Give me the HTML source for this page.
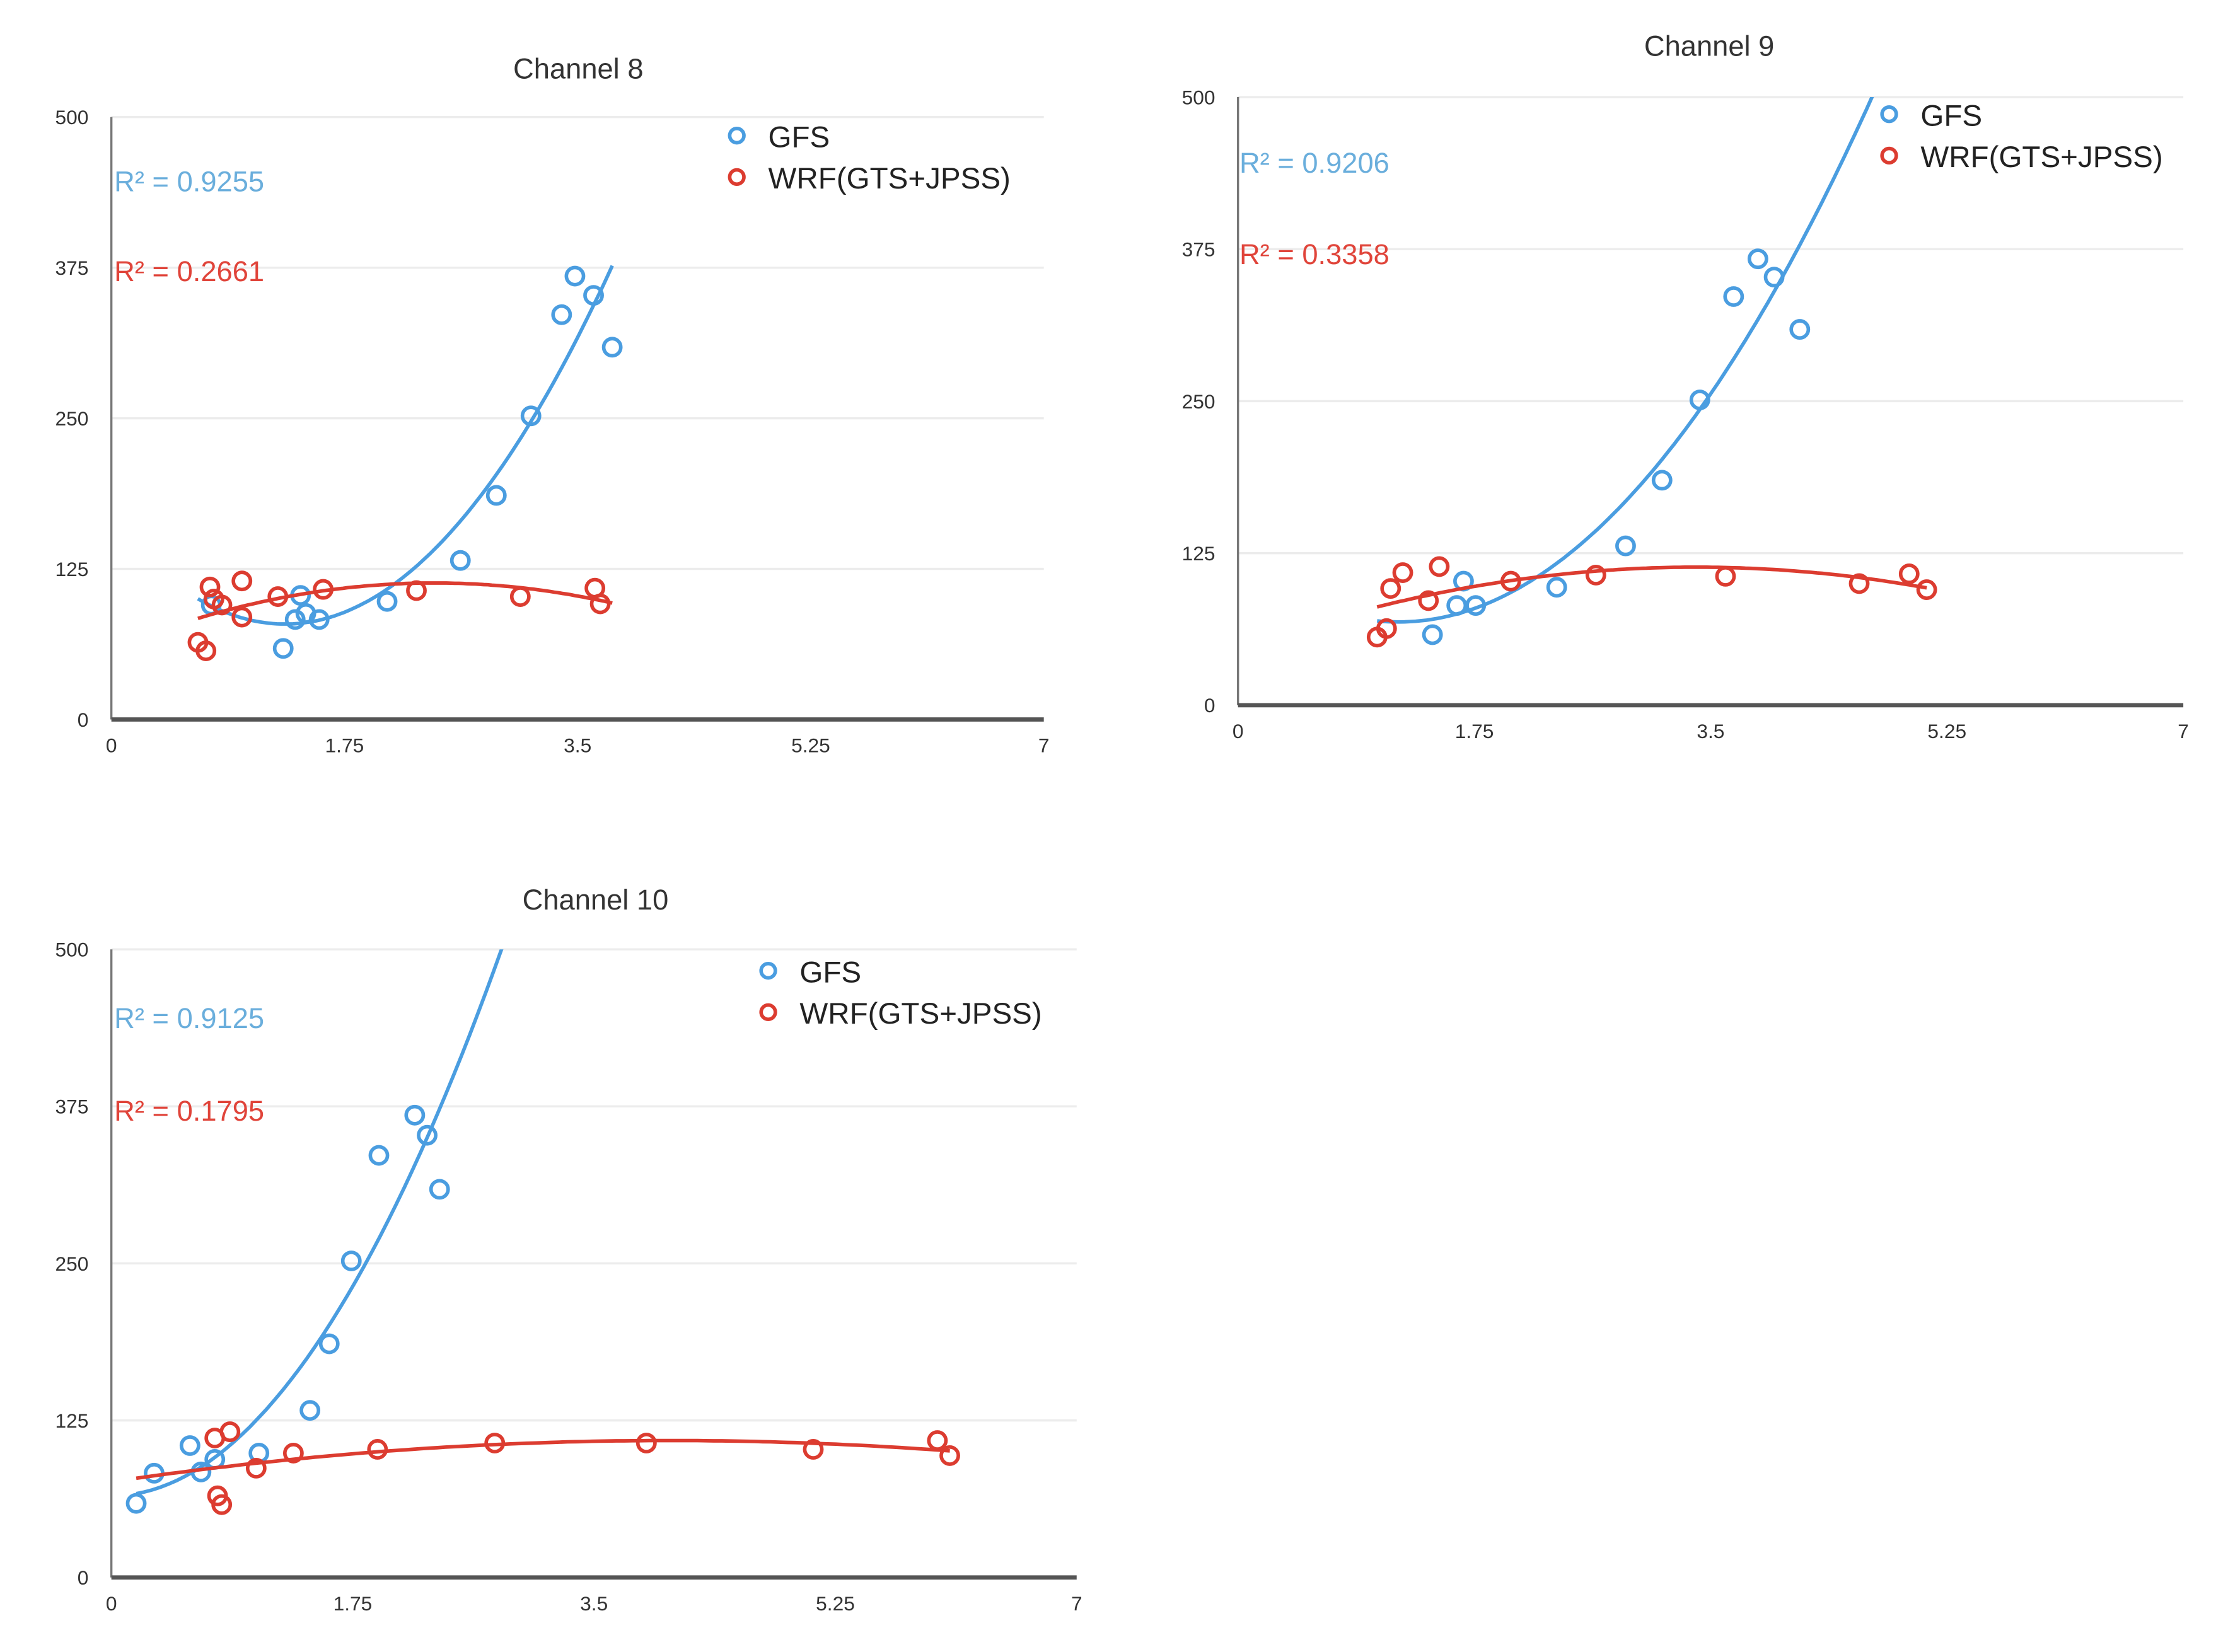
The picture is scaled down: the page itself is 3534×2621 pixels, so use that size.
<!DOCTYPE html>
<html><head><meta charset="utf-8"><style>
html,body{margin:0;padding:0;background:#fff;}
svg{display:block;font-family:"Liberation Sans",sans-serif;}
</style></head><body>
<svg id="svg" width="3534" height="2621" viewBox="0 0 1560.3 1157.2" preserveAspectRatio="none" xmlns="http://www.w3.org/2000/svg"></svg>
<script>
const titles = ["Channel 8","Channel 9","Channel 10"];
const r2Gfs = ["R² = 0.9255","R² = 0.9206","R² = 0.9125"];
const r2Wrf = ["R² = 0.2661","R² = 0.3358","R² = 0.1795"];
const yTicks = [0,125,250,375,500];
const xTicks = [0,1.75,3.5,5.25,7];
const xTickLabels = ["0","1.75","3.5","5.25","7"];
const gfsX8 = [3.48,3.38,3.62,3.76,3.15,2.89,2.62,2.07,1.56,1.46,1.38,1.42,1.29,0.75];
const gfsY8 = [368,336,352,309,252,186,132,98,83,88,83,103,59,95];
const wrfX8 = [0.74,0.77,0.83,0.98,0.98,0.65,0.71,1.25,1.59,2.29,3.07,3.63,3.67];
const wrfY8 = [110,100,95,115,85,64,57,102,108,107,102,109,96];
const gfsX9 = [3.85,3.67,3.97,4.16,3.42,3.14,2.87,2.36,1.76,1.62,1.67,1.44];
const gfsY9 = [367,336,352,309,251,185,131,97,82,82,102,58];
const wrfX9 = [1.03,1.10,1.13,1.22,1.41,1.49,2.02,2.65,3.61,4.60,4.97,5.10];
const wrfY9 = [56,63,96,109,86,114,102,107,106,100,108,95];
const gfsX10 = [0.18,0.31,0.57,0.65,0.75,1.07,1.44,1.58,1.74,1.94,2.20,2.29,2.38];
const gfsY10 = [59,83,105,84,94,99,133,186,252,336,368,352,309];
const wrfX10 = [0.75,0.86,0.77,0.80,1.05,1.32,1.93,2.78,3.88,5.09,5.99,6.08];
const wrfY10 = [111,116,65,58,87,99,102,107,107,102,109,97];

const layouts=[
 {x0:78,x1:731,yb:504,yt:82,tx:405,ty:48,lgx:516,lgy:95,rx:80,ry1:127,ry2:190},
 {x0:867,x1:1529,yb:494,yt:68,tx:1197,ty:32,lgx:1323,lgy:80,rx:868,ry1:114,ry2:178},
 {x0:78,x1:754,yb:1105,yt:665,tx:417,ty:630,lgx:538,lgy:680,rx:80,ry1:713,ry2:778}];
const series=[[gfsX8,gfsY8,wrfX8,wrfY8],[gfsX9,gfsY9,wrfX9,wrfY9],[gfsX10,gfsY10,wrfX10,wrfY10]];
const BLUE="#4a9de0",RED="#dc3c30";
const NS="http://www.w3.org/2000/svg";
const svg=document.getElementById('svg');
function mk(t,a,p){const e=document.createElementNS(NS,t);for(const k in a)e.setAttribute(k,a[k]);(p||svg).appendChild(e);return e;}
function fit(xs,ys,deg){const n=deg+1;const A=[];for(let i=0;i<n;i++){A.push(new Array(n+1).fill(0));}
 for(let k=0;k<xs.length;k++){for(let i=0;i<n;i++){for(let j=0;j<n;j++)A[i][j]+=Math.pow(xs[k],i+j);A[i][n]+=ys[k]*Math.pow(xs[k],i);}}
 for(let i=0;i<n;i++){let m=i;for(let r=i+1;r<n;r++)if(Math.abs(A[r][i])>Math.abs(A[m][i]))m=r;[A[i],A[m]]=[A[m],A[i]];
  for(let r=0;r<n;r++){if(r===i)continue;const f=A[r][i]/A[i][i];for(let c=i;c<=n;c++)A[r][c]-=f*A[i][c];}}
 return A.map((row,i)=>row[n]/row[i]);}
layouts.forEach((L,ci)=>{
 const g=mk('g',{});
 
 
 const xs=v=>L.x0+(v/7)*(L.x1-L.x0), ys=v=>L.yb-(v/500)*(L.yb-L.yt);
 const t=mk('text',{x:L.tx,y:L.ty+7,'text-anchor':'middle','font-size':20,fill:'#333'},g);t.textContent=titles[ci];
 
 yTicks.forEach(v=>{
  if(v>0){const gl=mk('line',{x1:L.x0,x2:L.x1,y1:ys(v),y2:ys(v),stroke:'#ececec','stroke-width':1.5},g);
   }
  const tl=mk('text',{x:L.x0-16,y:ys(v)+5,'text-anchor':'end','font-size':14,fill:'#333'},g);tl.textContent=v;
  
 });
 xTicks.forEach((v,i)=>{const tl=mk('text',{x:xs(v),y:L.yb+23,'text-anchor':'middle','font-size':14,fill:'#333'},g);tl.textContent=xTickLabels[i];
  });
 const ya=mk('line',{x1:L.x0,x2:L.x0,y1:L.yt,y2:L.yb,stroke:'#777','stroke-width':1.5},g);
 
 const xa=mk('line',{x1:L.x0,x2:L.x1,y1:L.yb,y2:L.yb,stroke:'#555','stroke-width':3},g);
 
 const [gx,gy,wx,wy]=series[ci];
 const all=gx.concat(wx);const mn=Math.min(...all),mx=Math.max(...all);
 const cp=mk('clipPath',{id:'cp'+ci},g);mk('rect',{x:L.x0,y:L.yt,width:L.x1-L.x0,height:L.yb-L.yt},cp);
 [[gx,gy,BLUE,'gfs'],[wx,wy,RED,'wrf']].forEach(([X,Y,col,nm])=>{
  const c=fit(X,Y,2);let d='';
  for(let k=0;k<=100;k++){const x=mn+(mx-mn)*k/100;const y=c[0]+c[1]*x+c[2]*x*x;d+=(k?'L':'M')+xs(x).toFixed(1)+' '+ys(y).toFixed(1);}
  const p=mk('path',{d:d,fill:'none',stroke:col,'stroke-width':2.5,'clip-path':'url(#cp'+ci+')'},g);
  
  X.forEach((x,i)=>{const pt=mk('circle',{cx:xs(x),cy:ys(Y[i]),r:6,fill:'none',stroke:col,'stroke-width':2.5},g);
   });
 });
 [[BLUE,'GFS',L.lgy],[RED,'WRF(GTS+JPSS)',L.lgy+29]].forEach(([col,lab,y],i)=>{
  const m=mk('circle',{cx:L.lgx,cy:y,r:5,fill:'none',stroke:col,'stroke-width':2.5},g);
  
  const tx=mk('text',{x:L.lgx+22,y:y+8,'font-size':21,fill:'#222'},g);tx.textContent=lab;
  
 });
 const a=mk('text',{x:L.rx,y:L.ry1+7,'font-size':20,fill:'#6aaedc'},g);a.textContent=r2Gfs[ci];
 
 const b=mk('text',{x:L.rx,y:L.ry2+7,'font-size':20,fill:'#e0443a'},g);b.textContent=r2Wrf[ci];
 
});
</script>
</body></html>
